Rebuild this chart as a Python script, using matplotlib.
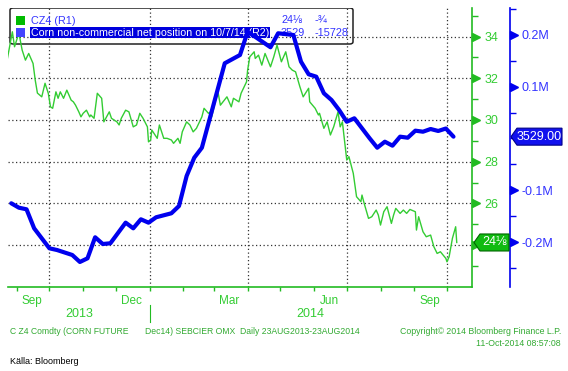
import matplotlib
matplotlib.use('Agg')
import matplotlib.pyplot as plt
import matplotlib.dates as mdates
from matplotlib.patches import FancyBboxPatch, Rectangle, Polygon
from matplotlib.ticker import FixedLocator, FuncFormatter
import matplotlib.transforms as mtransforms
import pandas as pd

# Corn Dec14 future (R1) vs CFTC non-commercial net position (R2)

green_dates = [
    '2013-08-23', '2013-08-28', '2013-08-30', '2013-09-03', '2013-09-06', '2013-09-09',
    '2013-09-12', '2013-09-16', '2013-09-18', '2013-09-20', '2013-09-24', '2013-09-27',
    '2013-09-30', '2013-10-02', '2013-10-04', '2013-10-07', '2013-10-09', '2013-10-11',
    '2013-10-14', '2013-10-17', '2013-10-21', '2013-10-23', '2013-10-25', '2013-10-28',
    '2013-10-30', '2013-11-01', '2013-11-04', '2013-11-07', '2013-11-08', '2013-11-11',
    '2013-11-14', '2013-11-18', '2013-11-20', '2013-11-25', '2013-11-27', '2013-12-02',
    '2013-12-04', '2013-12-06', '2013-12-10', '2013-12-13', '2013-12-17', '2013-12-20',
    '2013-12-23', '2013-12-26', '2013-12-30', '2013-12-31', '2014-01-02', '2014-01-03',
    '2014-01-08', '2014-01-10', '2014-01-14', '2014-01-17', '2014-01-21', '2014-01-23',
    '2014-01-27', '2014-01-29', '2014-01-31', '2014-02-04', '2014-02-07', '2014-02-10',
    '2014-02-13', '2014-02-18', '2014-02-20', '2014-02-24', '2014-02-26', '2014-02-27',
    '2014-03-03', '2014-03-05', '2014-03-07', '2014-03-13', '2014-03-17', '2014-03-19',
    '2014-03-24', '2014-03-26', '2014-03-31', '2014-04-01', '2014-04-03', '2014-04-07',
    '2014-04-08', '2014-04-11', '2014-04-14', '2014-04-17', '2014-04-22', '2014-04-25',
    '2014-04-28', '2014-05-02', '2014-05-06', '2014-05-09', '2014-05-12', '2014-05-15',
    '2014-05-19', '2014-05-22', '2014-05-27', '2014-05-28', '2014-06-02', '2014-06-05',
    '2014-06-06', '2014-06-10', '2014-06-13', '2014-06-16', '2014-06-19', '2014-06-23',
    '2014-06-25', '2014-06-27', '2014-06-30', '2014-07-01', '2014-07-03', '2014-07-07',
    '2014-07-10', '2014-07-14', '2014-07-15', '2014-07-17', '2014-07-21', '2014-07-24',
    '2014-07-28', '2014-07-30', '2014-08-01', '2014-08-04', '2014-08-07', '2014-08-11',
    '2014-08-13', '2014-08-15', '2014-08-19', '2014-08-22', '2014-08-25', '2014-08-28',
    '2014-09-02', '2014-09-03', '2014-09-05', '2014-09-09', '2014-09-12', '2014-09-16',
    '2014-09-19', '2014-09-22', '2014-09-25', '2014-09-30', '2014-10-01', '2014-10-03',
    '2014-10-06', '2014-10-09', '2014-10-10',
]
green_vals = [
    32.82, 34.23, 33.51, 34.17, 33.35, 32.87,
    33.19, 32.71, 31.91, 31.29, 31.11, 31.76,
    31.28, 30.63, 30.56, 31.35, 31.04, 31.35,
    31.04, 31.43, 30.95, 30.87, 30.71, 30.39,
    30.15, 30.32, 30.47, 30.15, 30.24, 30.08,
    31.28, 31.04, 29.91, 30.39, 30.08, 29.91,
    29.76, 30.08, 30.47, 30.39, 29.67, 29.76,
    30.32, 30.08, 29.67, 28.95, 29.04, 29.52,
    29.12, 29.76, 29.12, 29.12, 29.04, 28.88,
    29.12, 28.88, 29.43, 29.91, 29.76, 29.43,
    29.60, 30.15, 30.56, 30.32, 30.39, 30.15,
    31.04, 31.28, 30.71, 31.11, 30.63, 31.04,
    30.87, 31.28, 31.83, 32.39, 33.03, 33.27,
    32.95, 33.11, 32.63, 33.19, 32.55, 33.03,
    33.59, 32.79, 33.27, 32.55, 32.39, 32.31,
    31.59, 31.11, 31.52, 30.87, 30.56, 30.24,
    30.32, 29.60, 29.91, 29.28, 29.67, 30.39,
    29.67, 29.91, 28.56, 28.08, 28.24, 27.44,
    26.32, 26.08, 26.40, 26.00, 25.28, 25.36,
    25.68, 25.44, 24.96, 25.60, 25.84, 25.04,
    25.44, 25.76, 25.52, 25.68, 25.52, 25.71,
    25.60, 24.72, 25.36, 24.64, 24.40, 24.48,
    23.92, 23.60, 23.68, 23.36, 23.20, 23.44,
    24.32, 24.88, 24.125,
]

blue_dates = [
    '2013-08-27', '2013-09-03', '2013-09-10', '2013-09-17', '2013-10-01', '2013-10-08',
    '2013-10-22', '2013-10-29', '2013-11-05', '2013-11-12', '2013-11-19', '2013-11-26',
    '2013-12-10', '2013-12-17', '2013-12-24', '2013-12-31', '2014-01-07', '2014-01-21',
    '2014-01-28', '2014-02-04', '2014-02-11', '2014-02-18', '2014-03-11', '2014-03-25',
    '2014-04-01', '2014-04-22', '2014-04-29', '2014-05-13', '2014-05-20', '2014-05-27',
    '2014-06-03', '2014-06-10', '2014-06-17', '2014-06-24', '2014-07-01', '2014-07-08',
    '2014-07-22', '2014-07-29', '2014-08-05', '2014-08-12', '2014-08-19', '2014-08-26',
    '2014-09-02', '2014-09-09', '2014-09-16', '2014-09-23', '2014-09-30', '2014-10-07',
]
blue_vals = [
    -125100, -133600, -136700, -173400, -212000, -215300,
    -224900, -238400, -231300, -190700, -203700, -202300,
    -162500, -173400, -156000, -162500, -152100, -144400,
    -130300, -72400, -37100, -17800, 145200, 161200,
    206200, 176100, 203100, 199800, 148300, 124000,
    119300, 87300, 74300, 55000, 32400, 39000,
    400, -17800, -6200, -13900, 3500, 1500,
    15100, 13100, 18300, 14500, 19257, 3529,
]

green_ticks = [24, 26, 28, 30, 32, 34]
blue_ticks = [-200000, -100000, 100000, 200000]
quarter_starts = ['2013-10-01', '2014-01-01', '2014-04-01', '2014-07-01', '2014-10-01']

GREEN = '#33cc33'
GREEN_AX = '#22bb22'
BLUE = '#0000ee'
BLUE_TXT = '#3333ff'

plt.rcParams['font.family'] = ['Liberation Sans', 'DejaVu Sans']

W, H = 568, 371
def fx(x):
    return x / W
def fy(y):
    return 1 - y / H

fig = plt.figure(figsize=(W / 100, H / 100), dpi=100)
ax = fig.add_axes([fx(8), fy(287), (472 - 8) / W, (287 - 8) / H])
ax.patch.set_alpha(0)

gd = pd.to_datetime(green_dates)
bd = pd.to_datetime(blue_dates)

# legend frame, see-through like the terminal's
leg = FancyBboxPatch((fx(10), fy(44)), fx(353) - fx(10), fy(8) - fy(44),
                     boxstyle='round,pad=0,rounding_size=0.006',
                     transform=fig.transFigure, fc='none', ec='#222222', lw=1.1, zorder=0.2)
ax.add_patch(leg)

# dotted grid
for v in green_ticks:
    ax.axhline(v, color='#333333', lw=0.9, ls=(0, (1, 2)), zorder=1)
for d in quarter_starts:
    ax.axvline(pd.Timestamp(d), color='#333333', lw=0.9, ls=(0, (1, 2)), zorder=1)

ax.plot(gd, green_vals, color=GREEN, lw=1, zorder=3)

ax.set_xlim(pd.Timestamp('2013-08-24'), pd.Timestamp('2014-10-24'))
ax.set_ylim(21.99, 35.37)

for s in ['top', 'left']:
    ax.spines[s].set_visible(False)
ax.spines['bottom'].set_color(GREEN_AX)
ax.spines['right'].set_color(GREEN_AX)
ax.spines['bottom'].set_linewidth(1.2)
ax.spines['right'].set_linewidth(1.2)

ax.xaxis.set_major_locator(mdates.MonthLocator(bymonth=[3, 6, 9, 12], bymonthday=15))
ax.xaxis.set_major_formatter(mdates.DateFormatter('%b'))
ax.xaxis.set_minor_locator(mdates.MonthLocator())
ax.tick_params(axis='x', which='major', length=0, pad=6, labelcolor=GREEN, labelsize=8.5)
ax.tick_params(axis='x', which='minor', length=3, color=GREEN_AX, width=1)

# year labels under the months
x0, x1 = ax.get_xlim()
jan1 = mdates.date2num(pd.Timestamp('2014-01-01'))
xt = ax.get_xaxis_transform()
ax.text((x0 + jan1) / 2, -0.097, '2013', transform=xt, ha='center', va='center', color=GREEN, fontsize=9)
ax.text((jan1 + x1) / 2, -0.097, '2014', transform=xt, ha='center', va='center', color=GREEN, fontsize=9)
ax.plot([jan1, jan1], [-0.065, -0.125], transform=xt, clip_on=False, color=GREEN_AX, lw=0.8)

# legend contents
lt = fig.transFigure
ax.add_patch(Rectangle((fx(16), fy(25)), 9 / W, 9 / H, transform=lt, fc='#00bb00', ec='none', zorder=5))
ax.add_patch(Rectangle((fx(16), fy(37)), 9 / W, 9 / H, transform=lt, fc='#4444ff', ec='none', zorder=5))
ax.text(fx(31), fy(21), 'CZ4 (R1)', transform=lt, color=BLUE_TXT, fontsize=7.8, va='center', zorder=5)
ax.text(fx(31), fy(32.5), 'Corn non-commercial net position on 10/7/14 (R2)', transform=lt,
        color='white', fontsize=7.7, va='center', zorder=5,
        bbox=dict(fc='#0000dd', ec='none', pad=0.6))
ax.text(fx(282), fy(20), '24⅛', transform=lt, color=BLUE_TXT, fontsize=7.8, va='center', zorder=5)
ax.text(fx(315), fy(20), '-¾', transform=lt, color=BLUE_TXT, fontsize=7.8, va='center', zorder=5)
ax.text(fx(281), fy(33), '3529', transform=lt, color=BLUE_TXT, fontsize=7.8, va='center', zorder=5)
ax.text(fx(315), fy(33), '-15728', transform=lt, color=BLUE_TXT, fontsize=7.8, va='center', zorder=5)

# second axis: net position
ax2 = ax.twinx()
ax2.plot(bd, blue_vals, color=BLUE, lw=3, solid_joinstyle='round', solid_capstyle='round', zorder=3)
ax2.set_ylim(-286700, 251900)
for s in ['top', 'left', 'bottom']:
    ax2.spines[s].set_visible(False)
ax2.spines['right'].set_position(('outward', 38 * 0.72))
ax2.spines['right'].set_color(BLUE)
ax2.spines['right'].set_linewidth(1.2)
ax2.set_yticks(blue_ticks)
ax2.yaxis.set_major_formatter(FuncFormatter(lambda v, p: f'{v / 1e6:g}M'))
ax2.yaxis.set_minor_locator(FixedLocator(range(-250000, 250001, 50000)))
ax2.tick_params(axis='y', which='major', length=0, pad=8, labelcolor=BLUE_TXT, labelsize=9)
ax2.tick_params(axis='y', which='minor', length=4, color=BLUE, width=1)
off2 = mtransforms.ScaledTranslation((38 + 3.5) / 100, 0, fig.dpi_scale_trans)
ax2.plot([1.0] * len(blue_ticks), blue_ticks, ls='none', marker='>', ms=5.5, color=BLUE,
         transform=ax2.get_yaxis_transform() + off2, clip_on=False, zorder=5)

# green price axis on the right (twinx moves it left, so set it after)
ax.yaxis.tick_right()
ax.set_yticks(green_ticks)
ax.set_yticks(range(23, 36, 2), minor=True)
ax.tick_params(axis='y', which='major', length=0, pad=9, labelcolor=GREEN, labelsize=9)
ax.tick_params(axis='y', which='minor', length=4, color=GREEN_AX, width=1)
off = mtransforms.ScaledTranslation(3.5 / 100, 0, fig.dpi_scale_trans)
ax.plot([1.0] * len(green_ticks), green_ticks, ls='none', marker='>', ms=5.5, color=GREEN_AX,
        transform=ax.get_yaxis_transform() + off, clip_on=False, zorder=5)


def value_tag(axis, value, label, left, right, fc, ec):
    # pointer-shaped last value tag right of the axes, in pixel units
    _, ypx = axis.transData.transform((0, value))
    ypx = H - ypx
    pts = [(left, ypx), (left + 6, ypx - 8.5), (right, ypx - 8.5),
           (right, ypx + 8.5), (left + 6, ypx + 8.5)]
    fig.add_artist(Polygon([(fx(a), fy(b)) for a, b in pts], closed=True,
                           transform=fig.transFigure, fc=fc, ec=ec, lw=0.8))
    fig.text(fx((left + 6 + right) / 2), fy(ypx), label, color='white', fontsize=9,
             ha='center', va='center')


value_tag(ax, green_vals[-1], '24⅛', 474, 509, '#11bb11', '#006600')
value_tag(ax2, blue_vals[-1], '3529.00', 511, 562, '#1111ee', '#000088')

# footer
FOOT = '#33aa33'
fig.text(fx(10), fy(332), 'C Z4 Comdty (CORN FUTURE', color=FOOT, fontsize=6.2, va='center')
fig.text(fx(145), fy(332), 'Dec14) SEBCIER OMX  Daily 23AUG2013-23AUG2014', color=FOOT, fontsize=6.2, va='center')
fig.text(fx(561), fy(332), 'Copyright© 2014 Bloomberg Finance L.P.', color=FOOT, fontsize=6.3, va='center', ha='right')
fig.text(fx(561), fy(344), '11-Oct-2014 08:57:08', color=FOOT, fontsize=6.3, va='center', ha='right')
fig.text(fx(10), fy(362), 'Källa: Bloomberg', color='black', fontsize=6.5, va='center')

fig.savefig('out.png', dpi=100)
